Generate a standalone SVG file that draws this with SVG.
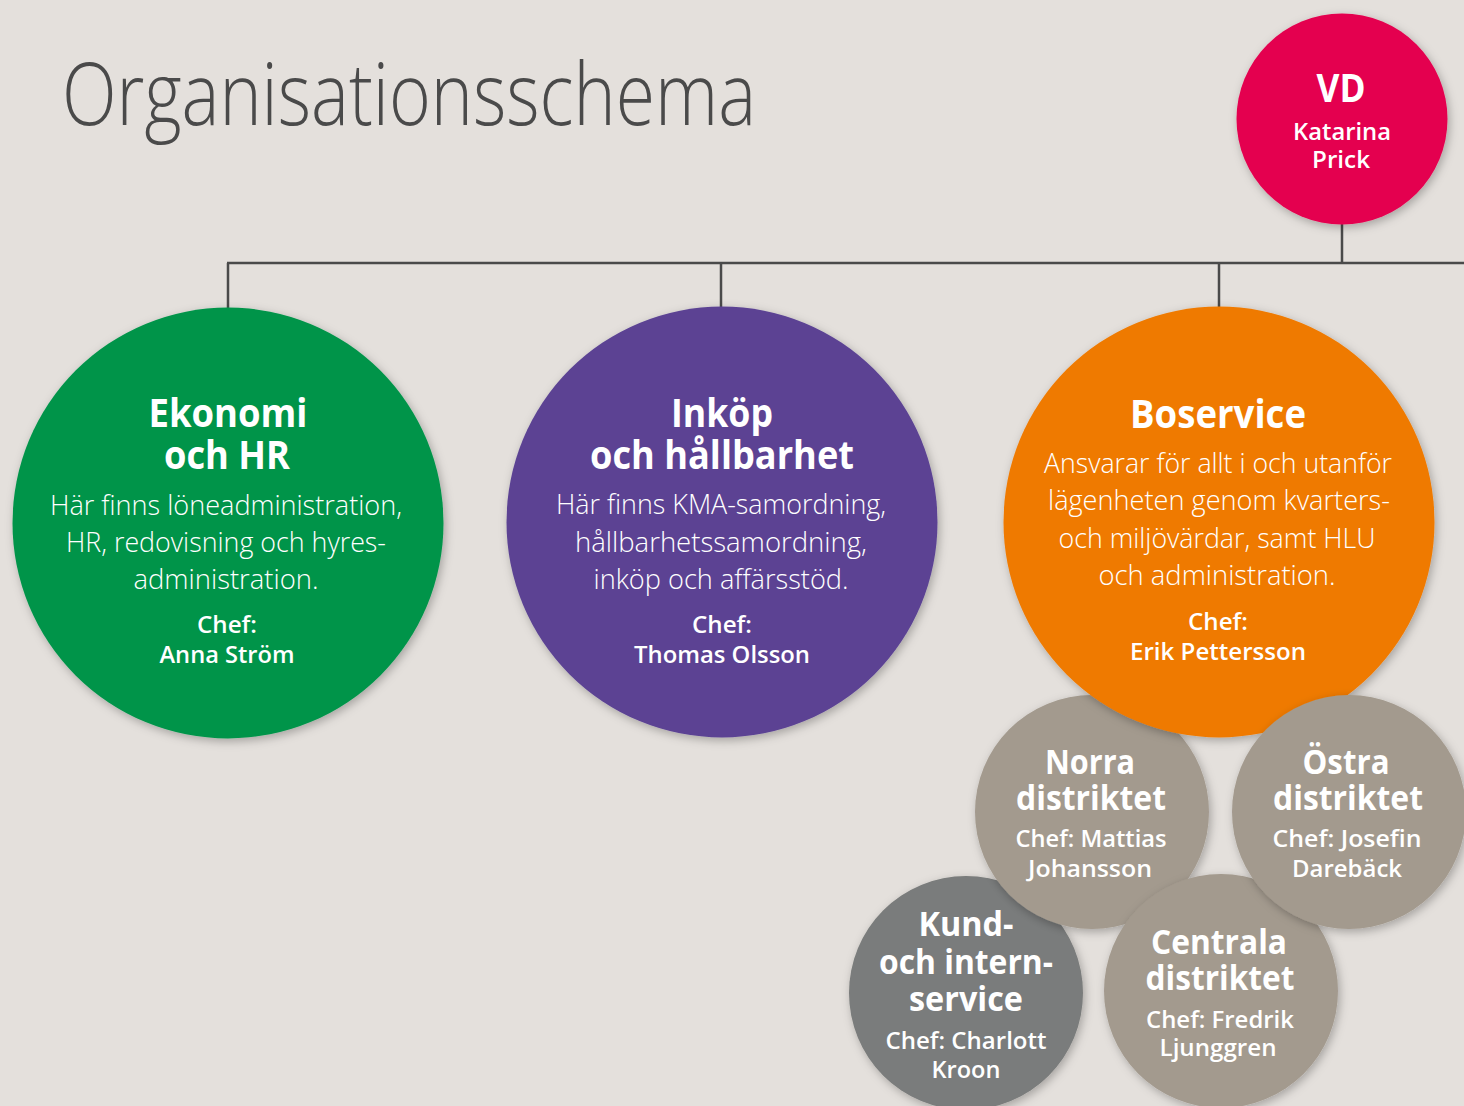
<svg xmlns="http://www.w3.org/2000/svg" width="1464" height="1106" viewBox="0 0 1464 1106">
  <defs>
    <filter id="shadow" x="-20%" y="-20%" width="140%" height="140%">
      <feDropShadow dx="2" dy="3" stdDeviation="5" flood-color="#000" flood-opacity="0.28"/>
    </filter>
    <style>
      .bg { fill: #e4e0dc; }
      .link { stroke: #4a4a4a; stroke-width: 2.5; fill: none; }
      .disc { filter: url(#shadow); }
      text { font-family: "Open Sans", "Noto Sans", "Liberation Sans", sans-serif; fill: #ffffff; text-anchor: middle; }
      .title { fill: #4a4a4a; font-weight: 300; font-size: 86px; text-anchor: start; }
      .head { font-weight: 700; font-size: 40px; }
      .sub { font-weight: 700; font-size: 34px; }
      .body { font-weight: 300; font-size: 28px; }
      .chef { font-weight: 600; font-size: 24px; }
      .small { font-weight: 600; font-size: 23px; }
    </style>
  </defs>

  <rect class="bg" x="0" y="0" width="1464" height="1106"/>

  <text class="title" x="62" y="125" textLength="694" lengthAdjust="spacingAndGlyphs">Organisationsschema</text>

  <g id="connectors">
    <line class="link" x1="1342" y1="220" x2="1342" y2="263"/>
    <line class="link" x1="227" y1="263" x2="1464" y2="263"/>
    <line class="link" x1="228" y1="263" x2="228" y2="310"/>
    <line class="link" x1="721" y1="263" x2="721" y2="310"/>
    <line class="link" x1="1219" y1="263" x2="1219" y2="310"/>
  </g>

  <g id="vd">
    <circle class="disc" cx="1342" cy="119" r="105.5" fill="#e4004f"/>
    <text class="head" x="1341" y="102" font-size="38" textLength="49" lengthAdjust="spacingAndGlyphs">VD</text>
    <text class="chef" x="1342" y="140" textLength="98" lengthAdjust="spacingAndGlyphs">Katarina</text>
    <text class="chef" x="1341" y="168" textLength="58" lengthAdjust="spacingAndGlyphs">Prick</text>
  </g>

  <g id="ekonomi">
    <circle class="disc" cx="228" cy="523" r="215.5" fill="#00944a"/>
    <text class="head" x="228" y="427" textLength="159" lengthAdjust="spacingAndGlyphs">Ekonomi</text>
    <text class="head" x="227" y="469" textLength="126" lengthAdjust="spacingAndGlyphs">och HR</text>
    <text class="body" x="226" y="515" textLength="352" lengthAdjust="spacingAndGlyphs">Här finns löneadministration,</text>
    <text class="body" x="226" y="552" textLength="320" lengthAdjust="spacingAndGlyphs">HR, redovisning och hyres-</text>
    <text class="body" x="226" y="589" textLength="185" lengthAdjust="spacingAndGlyphs">administration.</text>
    <text class="chef" x="227" y="633" textLength="60" lengthAdjust="spacingAndGlyphs">Chef:</text>
    <text class="chef" x="227" y="663" textLength="135" lengthAdjust="spacingAndGlyphs">Anna Ström</text>
  </g>

  <g id="inkop">
    <circle class="disc" cx="722" cy="522" r="215.5" fill="#5b4393"/>
    <text class="head" x="722" y="427" textLength="102" lengthAdjust="spacingAndGlyphs">Inköp</text>
    <text class="head" x="722" y="469" textLength="264" lengthAdjust="spacingAndGlyphs">och hållbarhet</text>
    <text class="body" x="721" y="514" textLength="330" lengthAdjust="spacingAndGlyphs">Här finns KMA-samordning,</text>
    <text class="body" x="721" y="552" textLength="292" lengthAdjust="spacingAndGlyphs">hållbarhetssamordning,</text>
    <text class="body" x="721" y="589" textLength="255" lengthAdjust="spacingAndGlyphs">inköp och affärsstöd.</text>
    <text class="chef" x="722" y="633" textLength="60" lengthAdjust="spacingAndGlyphs">Chef:</text>
    <text class="chef" x="722" y="663" textLength="176" lengthAdjust="spacingAndGlyphs">Thomas Olsson</text>
  </g>

  <g id="kundservice">
    <circle class="disc" cx="966" cy="993" r="117" fill="#7a7c7b"/>
    <text class="sub" x="966" y="936" textLength="95" lengthAdjust="spacingAndGlyphs">Kund-</text>
    <text class="sub" x="966" y="974" textLength="174" lengthAdjust="spacingAndGlyphs">och intern-</text>
    <text class="sub" x="966" y="1011" textLength="114" lengthAdjust="spacingAndGlyphs">service</text>
    <text class="small" x="966" y="1049" textLength="161" lengthAdjust="spacingAndGlyphs">Chef: Charlott</text>
    <text class="small" x="966" y="1078" textLength="69" lengthAdjust="spacingAndGlyphs">Kroon</text>
  </g>

  <g id="norra">
    <circle class="disc" cx="1092" cy="812" r="117" fill="#a39a8e"/>
    <text class="sub" x="1090" y="774" textLength="90" lengthAdjust="spacingAndGlyphs">Norra</text>
    <text class="sub" x="1091" y="810" textLength="150" lengthAdjust="spacingAndGlyphs">distriktet</text>
    <text class="small" x="1091" y="847" textLength="151" lengthAdjust="spacingAndGlyphs">Chef: Mattias</text>
    <text class="small" x="1090" y="877" textLength="124" lengthAdjust="spacingAndGlyphs">Johansson</text>
  </g>

  <g id="boservice">
    <circle class="disc" cx="1219" cy="522" r="215.5" fill="#ef7a00"/>
    <text class="head" x="1218" y="428" textLength="176" lengthAdjust="spacingAndGlyphs">Boservice</text>
    <text class="body" x="1218" y="473" textLength="348" lengthAdjust="spacingAndGlyphs">Ansvarar för allt i och utanför</text>
    <text class="body" x="1219" y="510" textLength="342" lengthAdjust="spacingAndGlyphs">lägenheten genom kvarters-</text>
    <text class="body" x="1217" y="548" textLength="317" lengthAdjust="spacingAndGlyphs">och miljövärdar, samt HLU</text>
    <text class="body" x="1217" y="585" textLength="237" lengthAdjust="spacingAndGlyphs">och administration.</text>
    <text class="chef" x="1218" y="630" textLength="60" lengthAdjust="spacingAndGlyphs">Chef:</text>
    <text class="chef" x="1218" y="660" textLength="176" lengthAdjust="spacingAndGlyphs">Erik Pettersson</text>
  </g>

  <g id="centrala">
    <circle class="disc" cx="1221" cy="991" r="117" fill="#a39a8e"/>
    <text class="sub" x="1219" y="954" textLength="136" lengthAdjust="spacingAndGlyphs">Centrala</text>
    <text class="sub" x="1220" y="990" textLength="149" lengthAdjust="spacingAndGlyphs">distriktet</text>
    <text class="small" x="1220" y="1028" textLength="148" lengthAdjust="spacingAndGlyphs">Chef: Fredrik</text>
    <text class="small" x="1218" y="1056" textLength="117" lengthAdjust="spacingAndGlyphs">Ljunggren</text>
  </g>

  <g id="ostra">
    <circle class="disc" cx="1349" cy="812" r="117" fill="#a39a8e"/>
    <text class="sub" x="1346" y="774" textLength="87" lengthAdjust="spacingAndGlyphs">Östra</text>
    <text class="sub" x="1348" y="810" textLength="150" lengthAdjust="spacingAndGlyphs">distriktet</text>
    <text class="small" x="1347" y="847" textLength="149" lengthAdjust="spacingAndGlyphs">Chef: Josefin</text>
    <text class="small" x="1347" y="877" textLength="110" lengthAdjust="spacingAndGlyphs">Darebäck</text>
  </g>
</svg>
